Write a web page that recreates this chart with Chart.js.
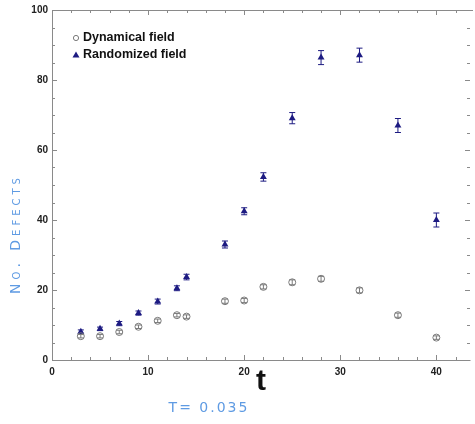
<!DOCTYPE html>
<html>
<head>
<meta charset="utf-8">
<script src="https://cdn.jsdelivr.net/npm/chart.js@4.4.1/dist/chart.umd.min.js"></script>
<style>
  html, body { margin: 0; padding: 0; background: #fff; }
</style>
</head>
<body>
<canvas id="defectsChart" width="475" height="424"></canvas>
<script>
// data
const times = [3, 5, 7, 9, 11, 13, 14, 18, 20, 22, 25, 28, 32, 36, 40];
const dynamicalField = [6.8, 6.8, 8.0, 9.5, 11.2, 12.8, 12.4, 16.8, 17.0, 20.9, 22.2, 23.2, 19.9, 12.8, 6.4];
const dynamicalErr = [0.5, 0.5, 0.5, 0.5, 0.5, 0.5, 0.5, 0.6, 0.6, 0.6, 0.7, 0.7, 0.7, 0.6, 0.5];
const randomizedField = [8.1, 8.9, 10.4, 13.4, 16.7, 20.5, 23.7, 33.0, 42.5, 52.3, 69.1, 86.4, 87.1, 67.0, 40.0];
const randomizedErr = [0.5, 0.5, 0.6, 0.6, 0.7, 0.7, 0.8, 1.0, 1.0, 1.2, 1.6, 2.0, 2.0, 2.0, 2.0];
const xTicks = [0, 10, 20, 30, 40];
const yTicks = [0, 20, 40, 60, 80, 100];
const seriesNames = ["Dynamical field", "Randomized field"];

const GREY = "#7a7a7a";
const NAVY = "#1d1b82";
const BLUE_INK = "#5f9be3";

function toPoints(ys) {
    return times.map((t, i) => ({ x: t, y: ys[i] }));
}

// error bars, drawn under the markers
const errorBars = {
    id: "errorBars",
    beforeDatasetsDraw(chart) {
        const ctx = chart.ctx;
        const xs = chart.scales.x, ys = chart.scales.y;
        const sets = [[dynamicalField, dynamicalErr, GREY], [randomizedField, randomizedErr, NAVY]];
        ctx.save();
        ctx.lineWidth = 1;
        sets.forEach(([vals, errs, col]) => {
            ctx.strokeStyle = col;
            vals.forEach((v, i) => {
                const px = xs.getPixelForValue(times[i]);
                const top = ys.getPixelForValue(v + errs[i]);
                const bot = ys.getPixelForValue(v - errs[i]);
                ctx.beginPath();
                ctx.moveTo(px, top); ctx.lineTo(px, bot);
                ctx.moveTo(px - 3, top); ctx.lineTo(px + 3, top);
                ctx.moveTo(px - 3, bot); ctx.lineTo(px + 3, bot);
                ctx.stroke();
            });
        });
        ctx.restore();
    }
};

// box frame with inward ticks on all four sides
const frame = {
    id: "frame",
    afterDraw(chart) {
        const ctx = chart.ctx;
        const a = chart.chartArea;
        const xs = chart.scales.x, ys = chart.scales.y;
        ctx.save();
        ctx.strokeStyle = "#8a8a8a";
        ctx.lineWidth = 1;
        ctx.beginPath();
        ctx.moveTo(a.left + 0.5, a.top + 0.5);
        ctx.lineTo(a.left + 0.5, a.bottom + 0.5);
        ctx.lineTo(a.right + 0.5, a.bottom + 0.5);
        ctx.moveTo(a.left + 0.5, a.top + 0.5);
        ctx.lineTo(a.right + 3, a.top + 0.5);
        for (let v = 0; v <= 43; v += 2) {
            const px = Math.round(xs.getPixelForValue(v)) + 0.5;
            const len = v % 10 === 0 ? 5 : 3;
            ctx.moveTo(px, a.bottom); ctx.lineTo(px, a.bottom - len);
            ctx.moveTo(px, a.top); ctx.lineTo(px, a.top + len);
        }
        for (let v = 0; v <= 100; v += 5) {
            const py = Math.round(ys.getPixelForValue(v)) + 0.5;
            const len = v % 20 === 0 ? 5 : 3;
            ctx.moveTo(a.left, py); ctx.lineTo(a.left + len, py);
            ctx.moveTo(a.right, py); ctx.lineTo(a.right - len, py);
        }
        ctx.stroke();

        // legend
        ctx.fillStyle = "#111";
        ctx.font = "bold 12.5px 'Liberation Sans', Arial, sans-serif";
        ctx.textBaseline = "middle";
        ctx.fillText(seriesNames[0], 83, 38);
        ctx.fillText(seriesNames[1], 83, 55);
        ctx.strokeStyle = GREY;
        ctx.beginPath();
        ctx.arc(76, 38, 2.6, 0, Math.PI * 2);
        ctx.stroke();
        ctx.fillStyle = NAVY;
        ctx.beginPath();
        ctx.moveTo(76, 51.5); ctx.lineTo(79.5, 57.5); ctx.lineTo(72.5, 57.5);
        ctx.closePath();
        ctx.fill();

        // handwritten notes
        ctx.fillStyle = BLUE_INK;
        ctx.save();
        ctx.translate(16, 234);
        ctx.rotate(-Math.PI / 2);
        ctx.textAlign = "center";
        ctx.font = "small-caps 14px 'DejaVu Sans', sans-serif";
        ctx.letterSpacing = "4px";
        ctx.fillText("No. Defects", 0, 0);
        ctx.restore();

        ctx.font = "14px 'DejaVu Sans', sans-serif";
        ctx.textAlign = "center";
        ctx.letterSpacing = "2px";
        ctx.fillText("T= 0.035", 209, 408);
        ctx.restore();
    }
};

const ctx = document.getElementById("defectsChart").getContext("2d");
const chart = new Chart(ctx, {
    type: "scatter",
    data: {
        datasets: [
            {
                label: seriesNames[0],
                data: toPoints(dynamicalField),
                pointStyle: "circle",
                pointRadius: 3.5,
                borderWidth: 1,
                borderColor: GREY,
                backgroundColor: "rgba(255,255,255,0)"
            },
            {
                label: seriesNames[1],
                data: toPoints(randomizedField),
                pointStyle: "triangle",
                pointRadius: 4,
                borderWidth: 0,
                borderColor: NAVY,
                backgroundColor: NAVY
            }
        ]
    },
    options: {
        responsive: false,
        animation: false,
        layout: { padding: { top: 9, right: 3, left: 0, bottom: 0 } },
        plugins: {
            legend: { display: false },
            tooltip: { enabled: false }
        },
        scales: {
            x: {
                type: "linear",
                min: 0,
                max: 43.5,
                afterFit(scale) { scale.height = 64; },
                afterBuildTicks(scale) { scale.ticks = xTicks.map(v => ({ value: v })); },
                grid: { display: false, drawTicks: false },
                border: { display: false },
                ticks: {
                    padding: 6,
                    color: "#222",
                    font: { family: "'Liberation Sans', Arial, sans-serif", weight: "bold", size: 10 }
                },
                title: {
                    display: true,
                    text: "t",
                    color: "#111",
                    padding: { top: 0, bottom: 24 },
                    font: { family: "'Liberation Sans', Arial, sans-serif", size: 30, weight: "bold" }
                }
            },
            y: {
                min: 0,
                max: 100,
                afterFit(scale) { scale.width = 52; },
                afterBuildTicks(scale) { scale.ticks = yTicks.map(v => ({ value: v })); },
                grid: { display: false, drawTicks: false },
                border: { display: false },
                ticks: {
                    padding: 4,
                    color: "#222",
                    font: { family: "'Liberation Sans', Arial, sans-serif", weight: "bold", size: 10 }
                }
            }
        }
    },
    plugins: [errorBars, frame]
});
</script>
</body>
</html>
